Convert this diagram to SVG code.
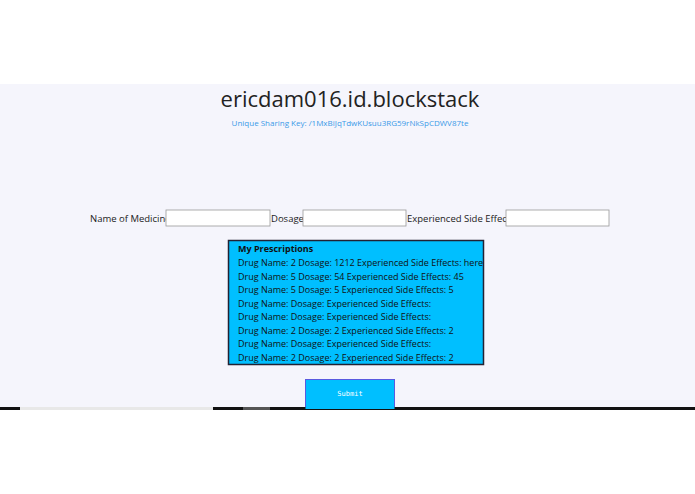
<svg xmlns="http://www.w3.org/2000/svg" width="695" height="494" viewBox="0 0 695 494">
<style>
text{font-family:"Open Sans","Noto Sans",sans-serif;fill:#222}
.lbl{font-size:9.5px}
.inp{fill:#fff;stroke:#999;stroke-width:0.8}
.row{font-size:9px;fill:#111}
</style>
<rect width="695" height="494" fill="#fff"/>
<rect x="0" y="84" width="695" height="323" fill="#f5f5fc"/>
<g id="title">
<text x="350" y="107" font-size="22" text-anchor="middle" fill="#222">ericdam016.id.blockstack</text>
<text x="350" y="126" font-size="8" text-anchor="middle" style="fill:#3a9ae8">Unique Sharing Key: /1MxBiJqTdwKUsuu3RG59rNkSpCDWV87te</text>
</g>
<g id="form">
<text class="lbl" x="90" y="222">Name of Medicine:</text>
<rect class="inp" x="166" y="210" width="104" height="16"/>
<text class="lbl" x="271" y="222">Dosage:</text>
<rect class="inp" x="303" y="210" width="103" height="16"/>
<text class="lbl" x="407" y="222">Experienced Side Effects:</text>
<rect class="inp" x="506" y="210" width="103" height="16"/>
</g>
<g id="prescriptions">
<rect x="228.5" y="240.5" width="255" height="124" fill="#00bfff" stroke="#223" stroke-width="1.5"/>
<text class="row" x="238" y="252" font-weight="bold">My Prescriptions</text>
<text class="row" x="238" y="266">Drug Name: 2 Dosage: 1212 Experienced Side Effects: here</text>
<text class="row" x="238" y="279.5">Drug Name: 5 Dosage: 54 Experienced Side Effects: 45</text>
<text class="row" x="238" y="293">Drug Name: 5 Dosage: 5 Experienced Side Effects: 5</text>
<text class="row" x="238" y="306.5">Drug Name: Dosage: Experienced Side Effects:</text>
<text class="row" x="238" y="320">Drug Name: Dosage: Experienced Side Effects:</text>
<text class="row" x="238" y="333.5">Drug Name: 2 Dosage: 2 Experienced Side Effects: 2</text>
<text class="row" x="238" y="347">Drug Name: Dosage: Experienced Side Effects:</text>
<text class="row" x="238" y="360.5">Drug Name: 2 Dosage: 2 Experienced Side Effects: 2</text>
</g>
<g id="submit">
<rect x="305.5" y="379.5" width="89" height="30" fill="#00bfff" stroke="#5a5ae0" stroke-width="1"/>
<text x="350" y="396" font-size="7" text-anchor="middle" font-family="DejaVu Sans Mono" style="fill:#fff;font-family:'DejaVu Sans Mono',monospace">Submit</text>
</g>
<rect x="0" y="407" width="695" height="3" fill="#111"/>
<rect x="20" y="407" width="193" height="3" fill="#e8e8e8"/>
<rect x="243" y="407" width="27" height="3" fill="#555"/>
<rect x="305.5" y="407" width="89" height="2" fill="#00bfff"/>
</svg>
